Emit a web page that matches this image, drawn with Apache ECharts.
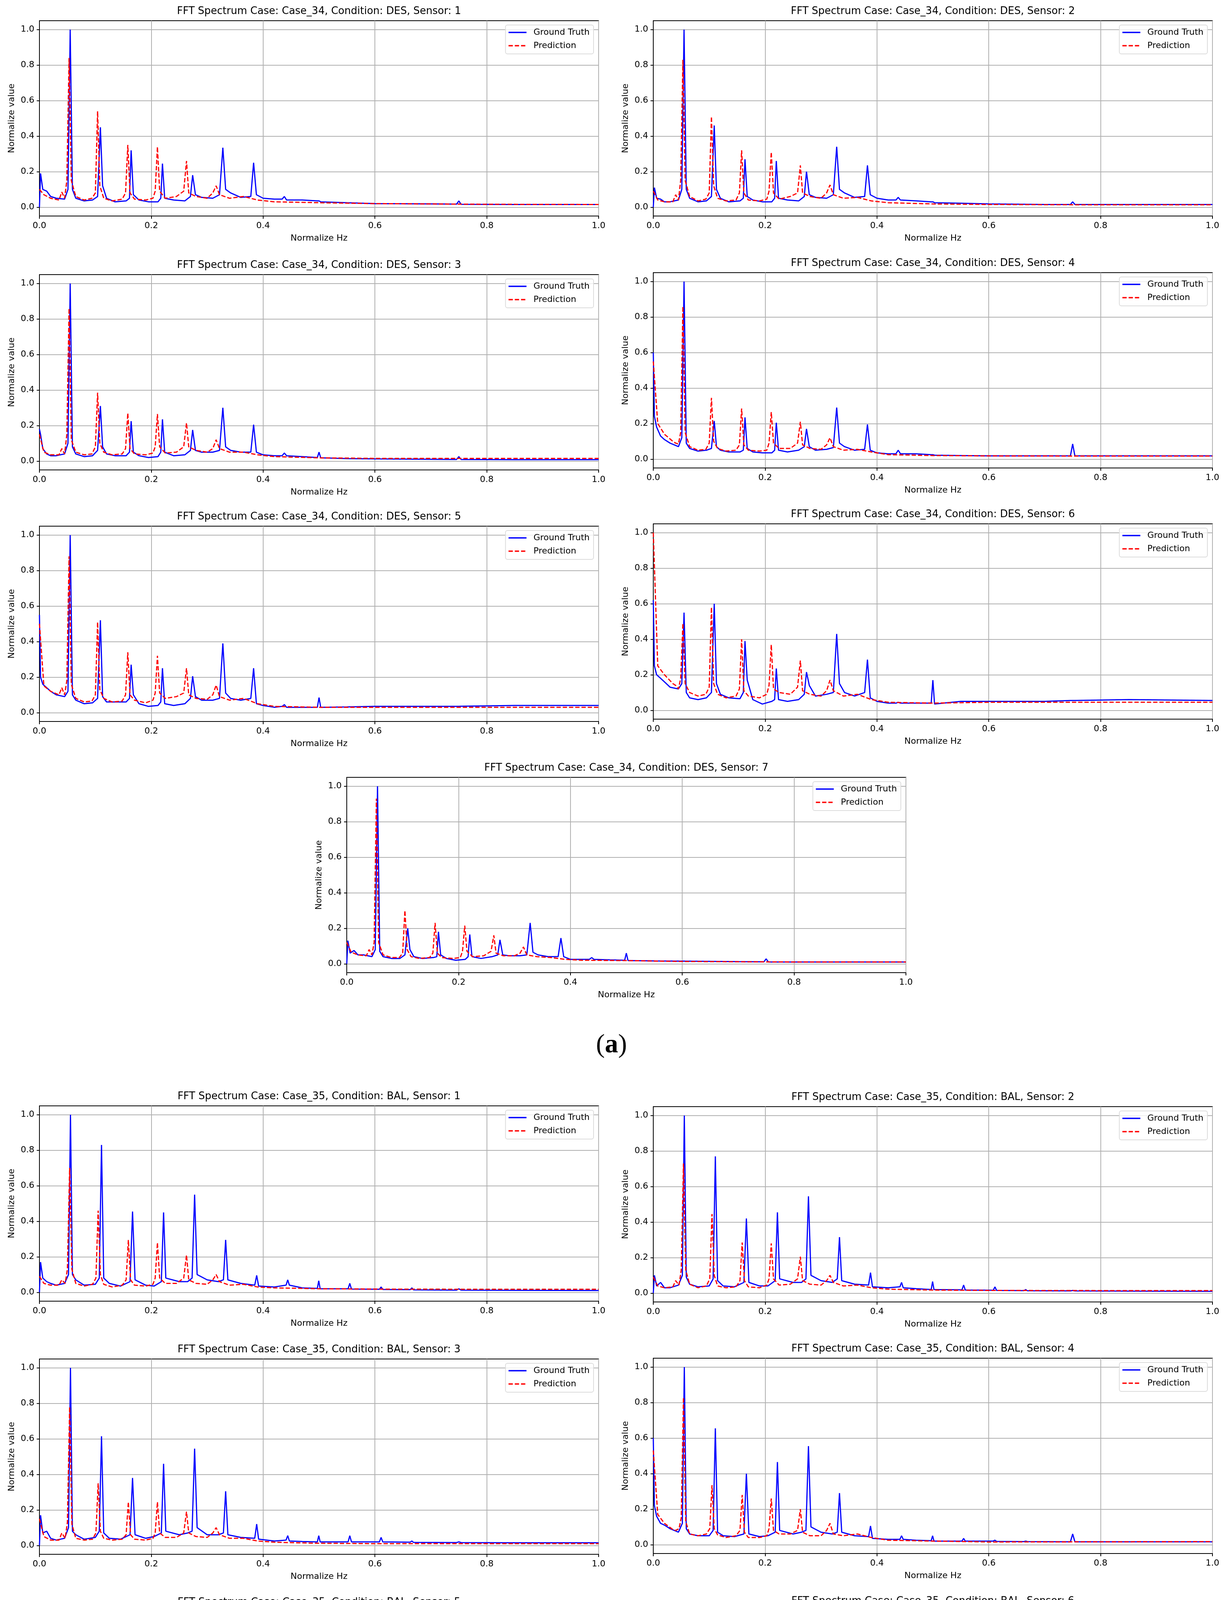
<!DOCTYPE html>
<html>
<head>
<meta charset="utf-8">
<script src="https://cdn.jsdelivr.net/npm/echarts@6/dist/echarts.min.js"></script>
<style>
html, body { margin: 0; padding: 0; background: #fff; }
#chart { width: 3132px; height: 5497px; }
</style>
</head>
<body>
<div id="chart"></div>
<script>
// tick values
var xTicks = [0, 0.2, 0.4, 0.6, 0.8, 1.0];
var yTicks = [0, 0.2, 0.4, 0.6, 0.8, 1.0];

var caseNames = ['Case_34', 'Case_35'];
var condNames = ['DES', 'BAL'];
var panelLabels = ['a', 'b'];

// Case_34 ground truth: sampled frequencies + values per sensor
var xGt34 = [0, 0.002, 0.006, 0.013, 0.02, 0.03, 0.045, 0.051, 0.055, 0.059,
  0.065, 0.08, 0.095, 0.104, 0.109, 0.113, 0.12, 0.135, 0.155, 0.161,
  0.164, 0.168, 0.178, 0.195, 0.212, 0.217, 0.22, 0.224, 0.24, 0.26,
  0.27, 0.274, 0.279, 0.29, 0.31, 0.322, 0.328, 0.333, 0.342, 0.36,
  0.378, 0.383, 0.388, 0.4, 0.42, 0.434, 0.438, 0.442, 0.47, 0.497,
  0.5, 0.503, 0.55, 0.6, 0.7, 0.746, 0.75, 0.754, 0.85, 1.0];

var gt34s1 = [0, 0.19, 0.1, 0.09, 0.06, 0.05, 0.045, 0.1, 1.0, 0.1,
  0.05, 0.035, 0.04, 0.06, 0.45, 0.12, 0.05, 0.03, 0.035, 0.05,
  0.32, 0.07, 0.04, 0.03, 0.03, 0.05, 0.245, 0.05, 0.04, 0.035,
  0.06, 0.18, 0.07, 0.055, 0.05, 0.07, 0.335, 0.1, 0.08, 0.055,
  0.06, 0.25, 0.07, 0.05, 0.045, 0.045, 0.06, 0.04, 0.04, 0.035,
  0.035, 0.03, 0.025, 0.02, 0.018, 0.017, 0.035, 0.016, 0.015, 0.015];
var gt34s2 = [0, 0.11, 0.05, 0.045, 0.03, 0.03, 0.04, 0.1, 1.0, 0.1,
  0.05, 0.03, 0.035, 0.06, 0.46, 0.1, 0.05, 0.03, 0.035, 0.05,
  0.27, 0.06, 0.04, 0.03, 0.03, 0.05, 0.26, 0.05, 0.04, 0.035,
  0.06, 0.2, 0.07, 0.055, 0.05, 0.07, 0.34, 0.1, 0.08, 0.055,
  0.06, 0.235, 0.07, 0.05, 0.04, 0.04, 0.055, 0.04, 0.035, 0.03,
  0.03, 0.025, 0.022, 0.018, 0.015, 0.015, 0.03, 0.015, 0.015, 0.015];
var gt34s3 = [0.18, 0.15, 0.07, 0.04, 0.03, 0.03, 0.04, 0.1, 1.0, 0.08,
  0.04, 0.025, 0.03, 0.06, 0.31, 0.08, 0.04, 0.03, 0.03, 0.05,
  0.225, 0.05, 0.03, 0.02, 0.025, 0.05, 0.235, 0.05, 0.03, 0.035,
  0.06, 0.175, 0.06, 0.05, 0.05, 0.06, 0.3, 0.08, 0.06, 0.05,
  0.05, 0.205, 0.05, 0.035, 0.03, 0.03, 0.045, 0.03, 0.025, 0.02,
  0.05, 0.018, 0.014, 0.012, 0.01, 0.009, 0.025, 0.009, 0.008, 0.008];
var gt34s4 = [0.6, 0.24, 0.18, 0.13, 0.11, 0.09, 0.07, 0.12, 1.0, 0.09,
  0.06, 0.045, 0.05, 0.06, 0.215, 0.07, 0.05, 0.04, 0.04, 0.05,
  0.235, 0.06, 0.04, 0.035, 0.035, 0.05, 0.205, 0.05, 0.04, 0.05,
  0.07, 0.17, 0.07, 0.05, 0.055, 0.065, 0.29, 0.09, 0.07, 0.05,
  0.055, 0.195, 0.05, 0.035, 0.03, 0.03, 0.05, 0.03, 0.03, 0.025,
  0.025, 0.022, 0.02, 0.018, 0.018, 0.018, 0.085, 0.018, 0.018, 0.018];
var gt34s5 = [0.55, 0.2, 0.16, 0.14, 0.12, 0.1, 0.09, 0.12, 1.0, 0.1,
  0.07, 0.05, 0.055, 0.08, 0.52, 0.09, 0.06, 0.06, 0.06, 0.08,
  0.27, 0.1, 0.05, 0.035, 0.04, 0.06, 0.25, 0.05, 0.04, 0.05,
  0.08, 0.205, 0.09, 0.07, 0.07, 0.08, 0.39, 0.11, 0.08, 0.07,
  0.08, 0.25, 0.05, 0.04, 0.03, 0.035, 0.045, 0.03, 0.03, 0.03,
  0.085, 0.03, 0.032, 0.035, 0.035, 0.035, 0.035, 0.036, 0.04, 0.04];
var gt34s6 = [0.62, 0.25, 0.2, 0.18, 0.16, 0.13, 0.12, 0.15, 0.55, 0.1,
  0.07, 0.06, 0.07, 0.1, 0.6, 0.15, 0.09, 0.07, 0.065, 0.1,
  0.39, 0.17, 0.06, 0.035, 0.05, 0.06, 0.235, 0.06, 0.05, 0.06,
  0.09, 0.215, 0.14, 0.08, 0.09, 0.1, 0.43, 0.15, 0.1, 0.08,
  0.1, 0.285, 0.07, 0.05, 0.04, 0.04, 0.045, 0.04, 0.04, 0.04,
  0.17, 0.035, 0.05, 0.05, 0.05, 0.055, 0.055, 0.055, 0.06, 0.055];
var gt34s7 = [0, 0.13, 0.06, 0.075, 0.05, 0.05, 0.04, 0.08, 1.0, 0.07,
  0.04, 0.03, 0.03, 0.05, 0.2, 0.08, 0.04, 0.03, 0.035, 0.04,
  0.18, 0.05, 0.03, 0.02, 0.025, 0.04, 0.165, 0.04, 0.03, 0.04,
  0.05, 0.135, 0.05, 0.045, 0.045, 0.05, 0.23, 0.065, 0.05, 0.04,
  0.04, 0.145, 0.04, 0.025, 0.025, 0.025, 0.035, 0.025, 0.022, 0.02,
  0.06, 0.018, 0.016, 0.015, 0.012, 0.011, 0.028, 0.01, 0.01, 0.01];

// Case_34 prediction
var xPr34 = [0, 0.008, 0.02, 0.035, 0.04, 0.045, 0.049, 0.053, 0.057, 0.065,
  0.08, 0.094, 0.1, 0.104, 0.108, 0.115, 0.13, 0.148, 0.154, 0.158,
  0.162, 0.17, 0.19, 0.203, 0.207, 0.211, 0.215, 0.225, 0.245, 0.258,
  0.263, 0.267, 0.28, 0.3, 0.31, 0.316, 0.322, 0.34, 0.365, 0.39,
  0.42, 0.5, 0.6, 0.8, 1.0];

var pr34s1 = [0.1, 0.07, 0.05, 0.04, 0.085, 0.05, 0.15, 0.84, 0.15, 0.06,
  0.04, 0.05, 0.08, 0.54, 0.12, 0.05, 0.035, 0.045, 0.08, 0.35,
  0.08, 0.045, 0.04, 0.05, 0.09, 0.34, 0.09, 0.05, 0.06, 0.09,
  0.26, 0.08, 0.06, 0.05, 0.08, 0.12, 0.07, 0.05, 0.06, 0.04,
  0.03, 0.025, 0.02, 0.016, 0.015];
var pr34s2 = [0.09, 0.04, 0.03, 0.03, 0.07, 0.04, 0.15, 0.83, 0.15, 0.06,
  0.035, 0.045, 0.08, 0.51, 0.12, 0.05, 0.035, 0.04, 0.08, 0.32,
  0.08, 0.04, 0.035, 0.045, 0.09, 0.31, 0.08, 0.045, 0.06, 0.08,
  0.235, 0.08, 0.06, 0.05, 0.08, 0.125, 0.07, 0.05, 0.055, 0.035,
  0.025, 0.018, 0.015, 0.013, 0.013];
var pr34s3 = [0.15, 0.05, 0.035, 0.035, 0.07, 0.04, 0.15, 0.86, 0.12, 0.05,
  0.035, 0.04, 0.08, 0.385, 0.1, 0.05, 0.035, 0.04, 0.07, 0.27,
  0.07, 0.04, 0.035, 0.045, 0.08, 0.265, 0.08, 0.045, 0.05, 0.08,
  0.215, 0.08, 0.06, 0.05, 0.07, 0.12, 0.07, 0.05, 0.05, 0.035,
  0.025, 0.018, 0.015, 0.015, 0.015];
var pr34s4 = [0.55, 0.2, 0.14, 0.1, 0.09, 0.085, 0.15, 0.86, 0.15, 0.07,
  0.05, 0.055, 0.09, 0.345, 0.1, 0.06, 0.045, 0.05, 0.08, 0.285,
  0.08, 0.05, 0.045, 0.05, 0.09, 0.265, 0.09, 0.06, 0.06, 0.09,
  0.21, 0.08, 0.06, 0.055, 0.08, 0.12, 0.07, 0.05, 0.055, 0.04,
  0.025, 0.02, 0.018, 0.017, 0.017];
var pr34s5 = [0.5, 0.15, 0.12, 0.1, 0.14, 0.1, 0.18, 0.88, 0.16, 0.08,
  0.06, 0.065, 0.1, 0.51, 0.13, 0.08, 0.06, 0.065, 0.1, 0.34,
  0.1, 0.07, 0.055, 0.07, 0.11, 0.32, 0.11, 0.08, 0.09, 0.11,
  0.25, 0.1, 0.08, 0.075, 0.1, 0.155, 0.09, 0.07, 0.08, 0.05,
  0.035, 0.03, 0.03, 0.03, 0.03];
var pr34s6 = [1.0, 0.25, 0.2, 0.15, 0.14, 0.12, 0.18, 0.49, 0.15, 0.1,
  0.08, 0.09, 0.13, 0.58, 0.15, 0.09, 0.07, 0.08, 0.12, 0.4,
  0.11, 0.08, 0.07, 0.09, 0.14, 0.37, 0.12, 0.1, 0.09, 0.13,
  0.28, 0.11, 0.09, 0.08, 0.11, 0.17, 0.11, 0.08, 0.09, 0.06,
  0.045, 0.04, 0.045, 0.045, 0.045];
var pr34s7 = [0.12, 0.065, 0.05, 0.045, 0.08, 0.05, 0.12, 0.93, 0.12, 0.05,
  0.035, 0.035, 0.06, 0.3, 0.08, 0.04, 0.03, 0.035, 0.06, 0.23,
  0.06, 0.035, 0.03, 0.035, 0.07, 0.215, 0.07, 0.04, 0.045, 0.07,
  0.16, 0.06, 0.045, 0.045, 0.06, 0.095, 0.05, 0.04, 0.035, 0.025,
  0.02, 0.018, 0.013, 0.01, 0.01];

// Case_35 ground truth
var xGt35 = [0, 0.002, 0.006, 0.013, 0.02, 0.03, 0.045, 0.052, 0.0555, 0.059,
  0.065, 0.08, 0.1, 0.107, 0.111, 0.115, 0.125, 0.145, 0.162, 0.1665,
  0.171, 0.19, 0.205, 0.218, 0.222, 0.226, 0.25, 0.265, 0.273, 0.2775,
  0.282, 0.3, 0.32, 0.329, 0.333, 0.337, 0.36, 0.385, 0.3885, 0.392,
  0.42, 0.441, 0.444, 0.447, 0.47, 0.497, 0.4995, 0.502, 0.552, 0.555,
  0.558, 0.608, 0.611, 0.614, 0.663, 0.666, 0.669, 0.746, 0.75, 0.754,
  0.85, 1.0];

var gt35s1 = [0, 0.17, 0.08, 0.06, 0.05, 0.04, 0.05, 0.1, 1.0, 0.1,
  0.07, 0.04, 0.045, 0.08, 0.83, 0.08, 0.05, 0.035, 0.06, 0.455,
  0.07, 0.04, 0.035, 0.06, 0.45, 0.08, 0.06, 0.06, 0.08, 0.55,
  0.1, 0.07, 0.06, 0.07, 0.295, 0.07, 0.05, 0.04, 0.095, 0.035,
  0.03, 0.04, 0.07, 0.04, 0.025, 0.022, 0.065, 0.02, 0.02, 0.05,
  0.018, 0.017, 0.03, 0.016, 0.015, 0.025, 0.014, 0.012, 0.02, 0.012,
  0.011, 0.01];
var gt35s2 = [0, 0.1, 0.04, 0.06, 0.03, 0.03, 0.045, 0.1, 1.0, 0.09,
  0.05, 0.035, 0.04, 0.08, 0.77, 0.07, 0.04, 0.035, 0.06, 0.42,
  0.06, 0.04, 0.04, 0.07, 0.455, 0.08, 0.06, 0.06, 0.08, 0.545,
  0.1, 0.07, 0.06, 0.08, 0.315, 0.07, 0.05, 0.045, 0.115, 0.035,
  0.03, 0.035, 0.06, 0.03, 0.025, 0.02, 0.065, 0.02, 0.018, 0.045,
  0.017, 0.016, 0.035, 0.015, 0.014, 0.02, 0.013, 0.012, 0.015, 0.012,
  0.011, 0.01];
var gt35s3 = [0, 0.17, 0.07, 0.08, 0.04, 0.03, 0.04, 0.1, 1.0, 0.08,
  0.06, 0.035, 0.045, 0.08, 0.615, 0.07, 0.04, 0.035, 0.06, 0.38,
  0.06, 0.04, 0.05, 0.07, 0.46, 0.08, 0.06, 0.07, 0.08, 0.545,
  0.1, 0.06, 0.06, 0.07, 0.305, 0.06, 0.045, 0.04, 0.12, 0.035,
  0.025, 0.03, 0.055, 0.025, 0.022, 0.02, 0.055, 0.02, 0.02, 0.055,
  0.02, 0.02, 0.045, 0.02, 0.018, 0.025, 0.017, 0.016, 0.02, 0.016,
  0.015, 0.015];
var gt35s4 = [0.6, 0.22, 0.16, 0.12, 0.11, 0.09, 0.07, 0.12, 1.0, 0.09,
  0.06, 0.05, 0.05, 0.08, 0.655, 0.07, 0.05, 0.045, 0.06, 0.4,
  0.06, 0.045, 0.05, 0.07, 0.465, 0.08, 0.06, 0.07, 0.08, 0.555,
  0.1, 0.07, 0.06, 0.07, 0.29, 0.07, 0.05, 0.045, 0.105, 0.035,
  0.03, 0.03, 0.05, 0.03, 0.025, 0.022, 0.05, 0.02, 0.02, 0.035,
  0.02, 0.02, 0.025, 0.018, 0.017, 0.02, 0.017, 0.016, 0.06, 0.016,
  0.016, 0.016];
var gt35s5 = [0.47, 0.2, 0.15, 0.14, 0.11, 0.09, 0.08, 0.12, 0.78, 0.08,
  0.06, 0.05, 0.05, 0.08, 1.0, 0.07, 0.05, 0.05, 0.07, 0.385,
  0.06, 0.04, 0.045, 0.07, 0.51, 0.08, 0.06, 0.07, 0.08, 0.61,
  0.1, 0.07, 0.065, 0.075, 0.32, 0.06, 0.05, 0.04, 0.11, 0.03,
  0.025, 0.028, 0.03, 0.028, 0.025, 0.025, 0.028, 0.023, 0.02, 0.022,
  0.02, 0.02, 0.02, 0.019, 0.018, 0.018, 0.017, 0.015, 0.015, 0.015,
  0.015, 0.017];
var gt35s6 = [0.55, 0.22, 0.15, 0.13, 0.12, 0.1, 0.08, 0.1, 0.17, 0.07,
  0.06, 0.05, 0.06, 0.12, 1.0, 0.12, 0.06, 0.05, 0.07, 0.4,
  0.15, 0.05, 0.05, 0.07, 0.54, 0.08, 0.06, 0.07, 0.09, 0.665,
  0.12, 0.08, 0.07, 0.08, 0.335, 0.1, 0.06, 0.05, 0.085, 0.03,
  0.025, 0.028, 0.03, 0.025, 0.025, 0.025, 0.13, 0.025, 0.025, 0.028,
  0.025, 0.028, 0.03, 0.027, 0.022, 0.022, 0.021, 0.02, 0.02, 0.02,
  0.02, 0.02];
var gt35s7 = [0, 0.145, 0.06, 0.075, 0.05, 0.05, 0.045, 0.1, 1.0, 0.09,
  0.07, 0.04, 0.04, 0.07, 0.62, 0.07, 0.04, 0.035, 0.05, 0.34,
  0.05, 0.035, 0.035, 0.06, 0.4, 0.07, 0.045, 0.05, 0.07, 0.49,
  0.08, 0.06, 0.055, 0.065, 0.24, 0.06, 0.04, 0.03, 0.075, 0.025,
  0.025, 0.028, 0.035, 0.025, 0.022, 0.02, 0.06, 0.015, 0.015, 0.02,
  0.014, 0.013, 0.013, 0.012, 0.011, 0.011, 0.011, 0.01, 0.03, 0.01,
  0.01, 0.01];

// Case_35 prediction
var xPr35 = [0, 0.008, 0.02, 0.035, 0.04, 0.046, 0.05, 0.054, 0.058, 0.065,
  0.08, 0.095, 0.101, 0.105, 0.109, 0.115, 0.13, 0.148, 0.155, 0.159,
  0.163, 0.17, 0.19, 0.203, 0.207, 0.211, 0.215, 0.225, 0.245, 0.258,
  0.263, 0.267, 0.28, 0.3, 0.31, 0.316, 0.322, 0.34, 0.365, 0.39,
  0.42, 0.5, 0.6, 0.8, 1.0];

var pr35s1 = [0.09, 0.05, 0.04, 0.04, 0.07, 0.05, 0.13, 0.7, 0.13, 0.05,
  0.035, 0.045, 0.08, 0.46, 0.1, 0.045, 0.03, 0.04, 0.07, 0.295,
  0.07, 0.04, 0.035, 0.045, 0.08, 0.28, 0.08, 0.05, 0.05, 0.08,
  0.21, 0.07, 0.05, 0.045, 0.07, 0.1, 0.06, 0.04, 0.045, 0.03,
  0.025, 0.02, 0.018, 0.017, 0.017];
var pr35s2 = [0.09, 0.04, 0.03, 0.035, 0.07, 0.045, 0.13, 0.73, 0.13, 0.05,
  0.03, 0.04, 0.08, 0.445, 0.1, 0.04, 0.03, 0.035, 0.07, 0.285,
  0.07, 0.035, 0.03, 0.045, 0.08, 0.28, 0.08, 0.045, 0.05, 0.08,
  0.205, 0.07, 0.05, 0.045, 0.07, 0.1, 0.06, 0.04, 0.045, 0.03,
  0.022, 0.017, 0.015, 0.014, 0.014];
var pr35s3 = [0.15, 0.05, 0.03, 0.03, 0.07, 0.04, 0.13, 0.78, 0.12, 0.04,
  0.03, 0.035, 0.07, 0.35, 0.08, 0.04, 0.03, 0.035, 0.06, 0.245,
  0.06, 0.035, 0.03, 0.04, 0.07, 0.245, 0.07, 0.045, 0.045, 0.07,
  0.19, 0.07, 0.05, 0.045, 0.07, 0.1, 0.06, 0.04, 0.04, 0.025,
  0.018, 0.012, 0.01, 0.01, 0.01];
var pr35s4 = [0.53, 0.17, 0.12, 0.085, 0.08, 0.09, 0.15, 0.83, 0.13, 0.06,
  0.05, 0.06, 0.09, 0.335, 0.09, 0.055, 0.04, 0.05, 0.08, 0.28,
  0.07, 0.04, 0.04, 0.05, 0.09, 0.26, 0.08, 0.06, 0.06, 0.08,
  0.2, 0.07, 0.05, 0.05, 0.08, 0.12, 0.06, 0.05, 0.06, 0.04,
  0.025, 0.02, 0.015, 0.016, 0.017];
var pr35s5 = [0.48, 0.15, 0.12, 0.1, 0.13, 0.1, 0.16, 0.77, 0.14, 0.07,
  0.05, 0.06, 0.1, 0.45, 0.11, 0.07, 0.05, 0.06, 0.09, 0.29,
  0.08, 0.05, 0.05, 0.06, 0.1, 0.28, 0.1, 0.08, 0.07, 0.09,
  0.22, 0.08, 0.06, 0.065, 0.09, 0.135, 0.08, 0.06, 0.07, 0.05,
  0.035, 0.035, 0.028, 0.025, 0.025];
var pr35s6 = [0.79, 0.2, 0.16, 0.12, 0.11, 0.1, 0.15, 0.39, 0.12, 0.08,
  0.06, 0.07, 0.1, 0.45, 0.12, 0.08, 0.05, 0.06, 0.09, 0.315,
  0.08, 0.06, 0.05, 0.07, 0.1, 0.29, 0.1, 0.08, 0.07, 0.1,
  0.225, 0.08, 0.07, 0.07, 0.1, 0.14, 0.08, 0.07, 0.08, 0.05,
  0.04, 0.035, 0.035, 0.037, 0.038];
var pr35s7 = [0.13, 0.06, 0.045, 0.05, 0.08, 0.05, 0.15, 1.0, 0.14, 0.05,
  0.04, 0.035, 0.06, 0.32, 0.07, 0.04, 0.035, 0.035, 0.06, 0.24,
  0.05, 0.035, 0.035, 0.04, 0.07, 0.22, 0.07, 0.04, 0.045, 0.07,
  0.17, 0.06, 0.045, 0.045, 0.06, 0.095, 0.05, 0.04, 0.04, 0.03,
  0.02, 0.015, 0.012, 0.01, 0.01];

var FONT = "'DejaVu Sans', sans-serif";
var W = 3132;
var PLOT_W = 1432, PLOT_H = 500;

// grid top-left corners, per case, per sensor
var gridPos = [
  [[101, 53], [1673, 53], [101, 703], [1673, 698], [101, 1347], [1673, 1341], [888, 1990]],
  [[101, 2831], [1673, 2833], [101, 3479], [1673, 3477], [101, 4126], [1673, 4123], [888, 4770]]
];
var labelPos = [[1566, 2676], [1566, 5451]];

function onLoad()
{
    var dom = document.getElementById("chart");
    var myChart = echarts.init(dom, null, {renderer: 'canvas'});
    myChart.setOption(getOption());
}

function zip(xs, ys) {
    var out = [];
    for (var i = 0; i < xs.length; i++) {
        out.push([xs[i], ys[i]]);
    }
    return out;
}

function getOption()
{
    var gtSets = [
        [gt34s1, gt34s2, gt34s3, gt34s4, gt34s5, gt34s6, gt34s7],
        [gt35s1, gt35s2, gt35s3, gt35s4, gt35s5, gt35s6, gt35s7]
    ];
    var prSets = [
        [pr34s1, pr34s2, pr34s3, pr34s4, pr34s5, pr34s6, pr34s7],
        [pr35s1, pr35s2, pr35s3, pr35s4, pr35s5, pr35s6, pr35s7]
    ];
    var gtX = [xGt34, xGt35];
    var prX = [xPr34, xPr35];

    var option = {
        backgroundColor: '#fff',
        animation: false,
        title: [], legend: [], grid: [], xAxis: [], yAxis: [], series: [], graphic: []
    };

    var idx = 0;
    for (var c = 0; c < 2; c++) {
        for (var s = 0; s < 7; s++) {
            var left = gridPos[c][s][0];
            var top = gridPos[c][s][1];

            option.grid.push({
                left: left, top: top, width: PLOT_W, height: PLOT_H,
                show: true, borderColor: '#000', borderWidth: 2,
                backgroundColor: 'transparent', containLabel: false
            });

            option.title.push({
                text: 'FFT Spectrum Case: ' + caseNames[c] + ', Condition: ' + condNames[c] + ', Sensor: ' + (s + 1),
                left: left + PLOT_W / 2, top: top - 37, textAlign: 'center', padding: 0,
                textStyle: {fontSize: 26, fontWeight: 'normal', color: '#000', fontFamily: FONT}
            });

            option.xAxis.push({
                gridIndex: idx, type: 'value', min: 0, max: 1, interval: 0.2,
                name: 'Normalize Hz', nameLocation: 'middle', nameGap: 46,
                nameTextStyle: {fontSize: 22, color: '#000', fontFamily: FONT},
                axisLine: {show: true, onZero: false, lineStyle: {color: '#000', width: 2}},
                axisTick: {show: true, length: 7, lineStyle: {color: '#000', width: 2}},
                axisLabel: {fontSize: 22, color: '#000', margin: 14, fontFamily: FONT,
                    formatter: function (v) { return v.toFixed(1); }},
                splitLine: {show: true, lineStyle: {color: '#b0b0b0', width: 2}}
            });

            option.yAxis.push({
                gridIndex: idx, type: 'value', min: -0.05, max: 1.05,
                name: 'Normalize value', nameLocation: 'middle', nameGap: 60, nameRotate: 90,
                nameTextStyle: {fontSize: 22, color: '#000', fontFamily: FONT},
                axisLine: {show: true, onZero: false, lineStyle: {color: '#000', width: 2}},
                axisTick: {show: true, length: 7, customValues: yTicks, lineStyle: {color: '#000', width: 2}},
                axisLabel: {fontSize: 22, color: '#000', margin: 13, fontFamily: FONT, customValues: yTicks,
                    formatter: function (v) { return v.toFixed(1); }},
                splitLine: {show: true, lineStyle: {color: '#b0b0b0', width: 2}}
            });

            option.legend.push({
                data: ['Ground Truth', 'Prediction'],
                orient: 'vertical',
                right: W - (left + PLOT_W - 13),
                top: top + 11,
                itemWidth: 46, itemHeight: 22, itemGap: 12,
                padding: [8, 10, 10, 6],
                backgroundColor: 'rgba(255,255,255,0.8)',
                borderColor: '#dcdcdc', borderWidth: 2, borderRadius: 5,
                selectedMode: false,
                itemStyle: {opacity: 0, borderWidth: 0},
                lineStyle: {width: 3.5},
                textStyle: {fontSize: 22, color: '#000', fontFamily: FONT, padding: [0, 0, 0, 13]}
            });

            option.series.push({
                type: 'line', name: 'Ground Truth',
                xAxisIndex: idx, yAxisIndex: idx,
                data: zip(gtX[c], gtSets[c][s]),
                symbol: 'none', showSymbol: false, clip: true,
                lineStyle: {color: '#0000ff', width: 3},
                itemStyle: {color: '#0000ff'},
                z: 3
            });
            option.series.push({
                type: 'line', name: 'Prediction',
                xAxisIndex: idx, yAxisIndex: idx,
                data: zip(prX[c], prSets[c][s]),
                symbol: 'none', showSymbol: false, clip: true,
                lineStyle: {color: '#ff0000', width: 3, type: [11, 5]},
                itemStyle: {color: '#ff0000'},
                z: 4
            });
            idx++;
        }

        option.graphic.push({
            type: 'text',
            x: labelPos[c][0], y: labelPos[c][1],
            style: {
                text: '{p|(}{b|' + panelLabels[c] + '}{p|)}',
                rich: {
                    p: {fontSize: 68, fontFamily: "'Liberation Serif', serif", fill: '#000'},
                    b: {fontSize: 68, fontFamily: "'Liberation Serif', serif", fontWeight: 'bold', fill: '#000'}
                },
                align: 'center', verticalAlign: 'middle',
                textAlign: 'center', textVerticalAlign: 'middle'
            }
        });
    }
    return option;
}

onLoad();
</script>
</body>
</html>
